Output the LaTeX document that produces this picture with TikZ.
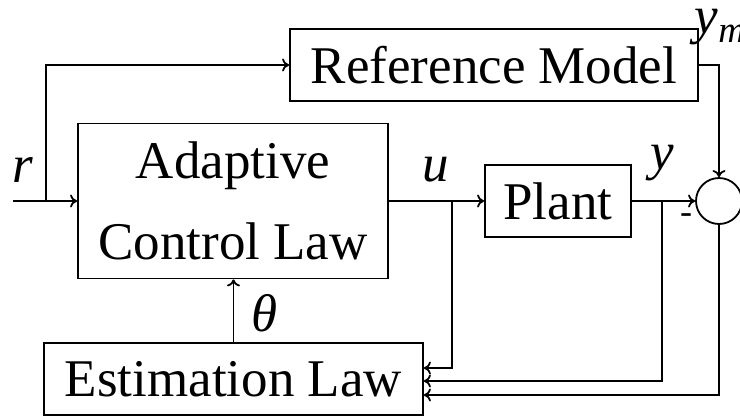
\documentclass[tikz,border=0pt]{standalone}
\usepackage{fontspec}
\setmainfont{Liberation Serif}
\usetikzlibrary{arrows.meta}
\begin{document}
\begin{tikzpicture}[x=1pt,y=-1pt,
  every path/.style={line width=1.8pt},
  block/.style={draw, line width=1.8pt, rectangle, inner sep=0pt, align=center,
    font=\fontsize{53}{81}\selectfont},
  sig/.style={font=\fontsize{53}{60}\selectfont\itshape, inner sep=0pt},
  wire/.style={draw, line width=1.8pt, -{To[length=7pt,width=13pt]}}]
\useasboundingbox (0,0) rectangle (740,416);

% blocks
\node[block, minimum width=408, minimum height=72] (rm) at (494,65) {Reference Model};
\node[block, minimum width=310, minimum height=155] (acl) at (233,201) {Adaptive\\Control Law};
\node[block, minimum width=146, minimum height=72] (plant) at (558,201) {Plant};
\node[block, minimum width=379, minimum height=72] (est) at (233.5,379) {Estimation Law};
\node[draw, circle, line width=1.8pt, minimum size=46, inner sep=0pt] (sum) at (719,201) {};

% branch points
\coordinate (rin) at (13,201);
\coordinate (rb) at (46,201);
\coordinate (ub) at (452,201);
\coordinate (yb) at (662,201);

% signal labels
\node[sig] (lr) at (23,170) {r};
\node[sig] (lu) at (436,170) {u};
\node[sig] (ly) at (662,163) {y};
\node[sig] (lth) at (265,313) {θ};
\node[sig, anchor=west] (lym) at (694,27) {y\textsubscript{m}};
\node[font=\fontsize{36}{40}\selectfont, inner sep=0pt] (minus) at (686,219) {-};

% connectors
\draw[wire] (rin) -- (acl.west);
\draw[wire] (rb) |- (rm.west);
\draw[wire] (rm.east) -| (sum.north);
\draw[wire] (acl.east) -- (plant.west);
\draw[wire] (plant.east) -- (sum.west);
\draw[wire] (ub) |- ([yshift=11pt]est.east);
\draw[wire] (yb) |- ([yshift=-2pt]est.east);
\draw[wire] (sum.south) |- ([yshift=-16pt]est.east);
\draw[wire] (est.north) -- (est.north |- acl.south);
\end{tikzpicture}
\end{document}
